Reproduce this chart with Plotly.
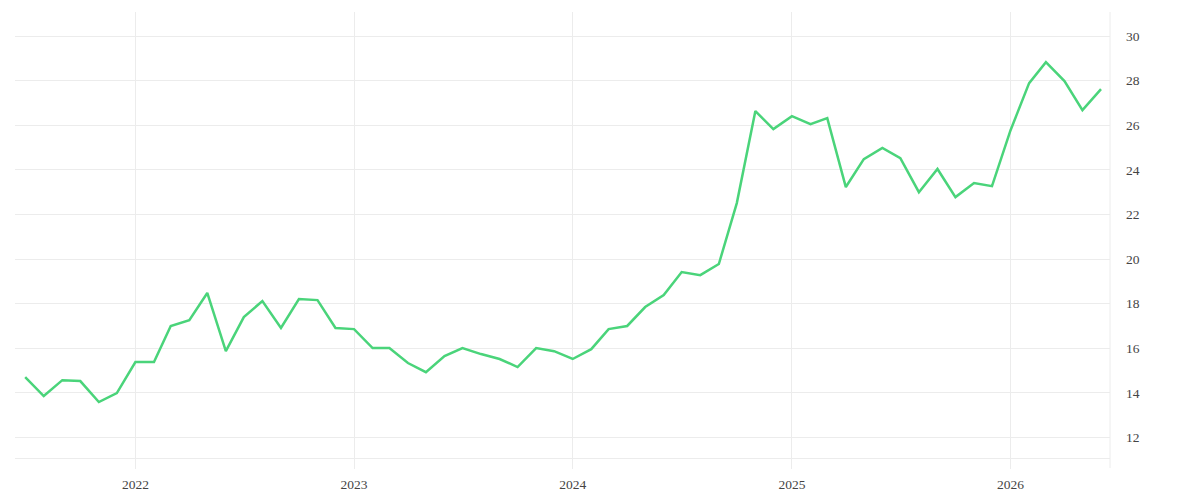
import plotly.graph_objects as go
import pandas as pd

dates = pd.date_range("2021-07-01", "2026-06-01", freq="MS").strftime("%Y-%m-%d").tolist()
values = [
    14.71, 13.86, 14.57, 14.53, 13.59, 13.99,
    15.38, 15.38, 17.00, 17.26, 18.48, 15.87, 17.40, 18.12, 16.91, 18.21, 18.16, 16.91,
    16.86, 16.01, 16.01, 15.34, 14.93, 15.65, 16.01, 15.74, 15.52, 15.16, 16.01, 15.87,
    15.52, 15.96, 16.86, 17.00, 17.85, 18.39, 19.42, 19.28, 19.78, 22.51, 26.64, 25.83,
    26.41, 26.05, 26.32, 23.23, 24.48, 24.98, 24.53, 23.00, 24.04, 22.78, 23.41, 23.27,
    25.78, 27.89, 28.83, 27.98, 26.68, 27.62,
]
x_ticks = ["2022-01-01", "2023-01-01", "2024-01-01", "2025-01-01", "2026-01-01"]
x_tick_labels = ["2022", "2023", "2024", "2025", "2026"]
y_ticks = [12, 14, 16, 18, 20, 22, 24, 26, 28, 30]

grid = "#ececec"
font = dict(family="Liberation Serif, serif", size=13.5, color="#444444")

fig = go.Figure()
fig.add_trace(go.Scatter(
    x=dates, y=values, mode="lines",
    line=dict(color="#4ad47a", width=2.5),
    hoverinfo="skip",
))

fig.update_layout(
    width=1200, height=500,
    margin=dict(l=15, r=90, t=12, b=42),
    paper_bgcolor="white", plot_bgcolor="white",
    showlegend=False,
    font=font,
    xaxis=dict(
        range=["2021-06-14", "2026-06-16"],
        tickvals=x_ticks, ticktext=x_tick_labels,
        showgrid=True, gridcolor=grid, gridwidth=1,
        showline=True, linecolor=grid, linewidth=1,
        ticks="outside", ticklen=10, tickcolor=grid, tickwidth=1,
        ticklabelstandoff=4, automargin=False,
        zeroline=False, tickfont=font,
    ),
    yaxis=dict(
        side="right",
        range=[11.08, 31.08],
        tickvals=y_ticks,
        showgrid=True, gridcolor=grid, gridwidth=1,
        showline=False, zeroline=False,
        ticks="", ticklabelstandoff=15, automargin=False,
        tickfont=font,
    ),
    shapes=[dict(
        type="line", xref="paper", yref="paper",
        x0=1, x1=1, y0=-10 / 446, y1=1,
        line=dict(color=grid, width=1),
    )],
)

fig.write_html("out.html")
